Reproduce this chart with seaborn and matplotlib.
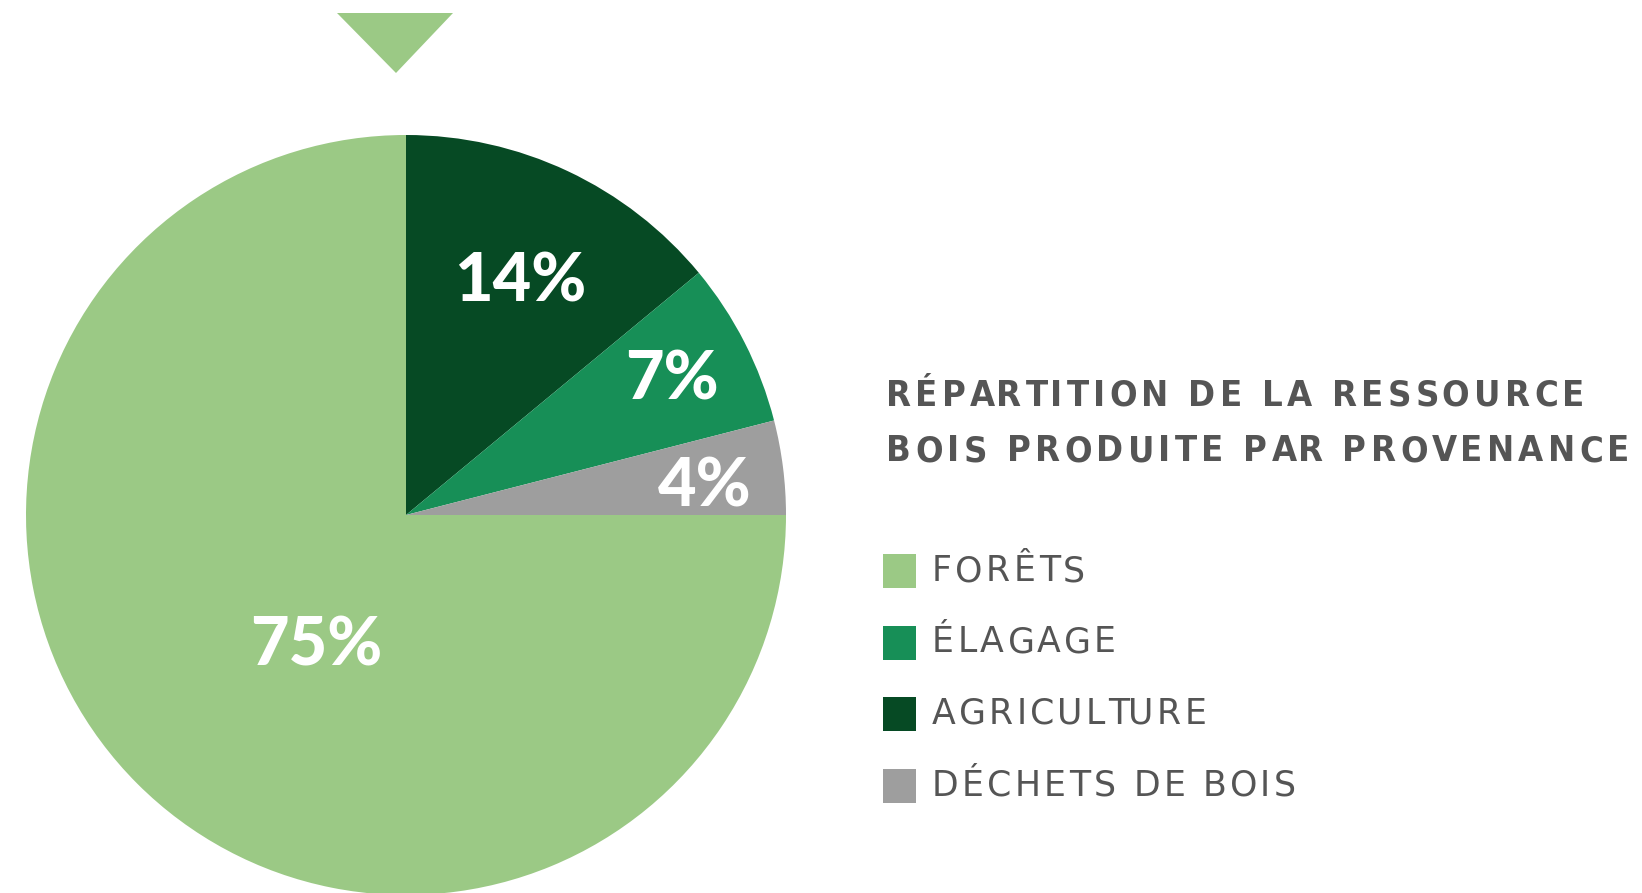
import matplotlib
matplotlib.use("Agg")
import matplotlib.pyplot as plt
import seaborn as sns
import numpy as np
from matplotlib.patches import Rectangle, Polygon

# ---- data ----
slice_labels = ["AGRICULTURE", "ÉLAGAGE", "DÉCHETS DE BOIS", "FORÊTS"]
slice_values = [14, 7, 4, 75]
slice_colors = ["#064A24", "#178F57", "#9E9E9E", "#9BC985"]
label_dist = [0.69, 0.79, 0.79, 0.41]
label_shift = [-0.5, 0.5, -1.2, 10]   # degrees, label placement tweak

legend_labels = ["FORÊTS", "ÉLAGAGE", "AGRICULTURE", "DÉCHETS DE BOIS"]
legend_colors = ["#9BC985", "#178F57", "#064A24", "#9E9E9E"]
title_lines = ["RÉPARTITION DE LA RESSOURCE", "BOIS PRODUITE PAR PROVENANCE"]

sns.set_theme(style="white")
plt.rcParams['font.family'] = ['DejaVu Sans']

W, H = 1642, 893
fig = plt.figure(figsize=(W / 100, H / 100), dpi=100)
ax = fig.add_axes([0, 0, 1, 1])
renderer = fig.canvas.get_renderer()

cx, cy, R = 406, H - 515, 380
wedges, _ = ax.pie(slice_values, colors=slice_colors, startangle=90,
                   counterclock=False, center=(cx, cy), radius=R,
                   wedgeprops=dict(linewidth=0), frame=True)
ax.set_xlim(0, W)
ax.set_ylim(0, H)
ax.set_aspect("equal")
ax.axis("off")

for w, v, d, s in zip(wedges, slice_values, label_dist, label_shift):
    ang = np.deg2rad((w.theta1 + w.theta2) / 2 + s)
    x = cx + d * R * np.cos(ang)
    y = cy + d * R * np.sin(ang) - 4
    ax.text(x, y, f"{v}%", color="white", fontsize=48, fontweight="black",
            family="Lato", ha="center", va="center")

# marker triangle at top
ax.add_patch(Polygon([[337, H - 13], [453, H - 13], [396, H - 73]],
                     closed=True, color="#9BC985", lw=0))


def text_width(s, **kw):
    t = ax.text(0, 0, s, **kw)
    w = t.get_window_extent(renderer).width
    t.remove()
    return w


def tracked(x, y, s, track, **kw):
    ref = text_width("I", **kw)
    for i, ch in enumerate(s):
        if ch == " ":
            continue
        off = (text_width(s[:i] + "I", **kw) - ref) if i else 0
        ax.text(x + off + i * track, y, ch, ha="left", va="center", **kw)


# title
tkw = dict(color="#555555", fontsize=26, fontweight="bold",
           fontstretch="condensed", family="DejaVu Sans")
for i, line in enumerate(title_lines):
    tracked(886, H - (396 + 55 * i), line, 4.3, **tkw)

# legend
lkw = dict(color="#555555", fontsize=25, family="DejaVu Sans")
for i, (lab, col) in enumerate(zip(legend_labels, legend_colors)):
    yc = H - (571 + 71.5 * i)
    ax.add_patch(Rectangle((883, yc - 17), 33, 34, color=col, lw=0))
    tracked(932, yc, lab, 3.3, **lkw)

fig.savefig("out.png", dpi=100)
